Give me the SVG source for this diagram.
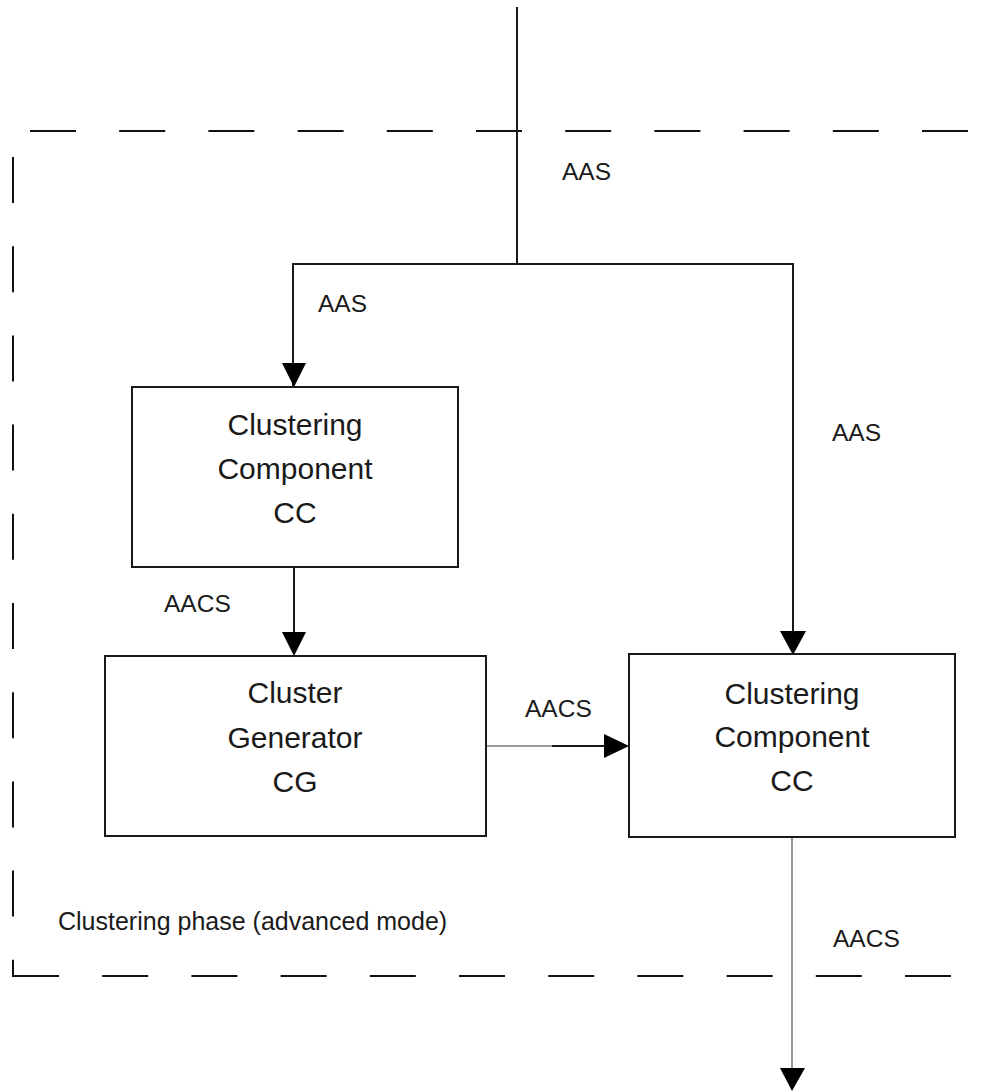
<svg xmlns="http://www.w3.org/2000/svg" width="990" height="1091" viewBox="0 0 990 1091">
  <style>
    .box { fill: #fff; stroke: #1a1a1a; stroke-width: 2; }
    .title { font-family: "Liberation Sans", Arial, sans-serif; font-size: 30px; fill: #1a1a1a; text-anchor: middle; }
    .lbl { font-family: "Liberation Sans", Arial, sans-serif; font-size: 24.5px; fill: #1a1a1a; }
    .phase { font-size: 25px; }
    .wire { fill: none; stroke: #1a1a1a; stroke-width: 2; }
    .grey { fill: none; stroke: #9a9a9a; stroke-width: 2; }
    .border { fill: none; stroke: #111; stroke-width: 2; stroke-dasharray: 46 43.2; }
    .head { fill: #000; }
  </style>

  <!-- phase boundary (dashed frame) -->
  <g id="phase-boundary">
    <line class="border" x1="30" y1="131" x2="972" y2="131"/>
    <line class="border" x1="13" y1="157" x2="13" y2="977"/>
    <line class="border" x1="13" y1="976" x2="953" y2="976"/>
    <text class="lbl phase" x="58" y="930">Clustering phase (advanced mode)</text>
  </g>

  <!-- connectors -->
  <g id="connectors">
    <!-- incoming AAS, split to both clustering components -->
    <polyline class="wire" points="517,7 517,264"/>
    <polyline class="wire" points="293,387 293,264 793,264 793,655"/>
    <polygon class="head" points="282,363 306,363 294,387"/>
    <polygon class="head" points="780,631 806,631 793,655"/>
    <text class="lbl" x="562" y="180">AAS</text>
    <text class="lbl" x="318" y="312">AAS</text>
    <text class="lbl" x="832" y="441">AAS</text>

    <!-- CC to CG -->
    <line class="wire" x1="294" y1="567" x2="294" y2="640"/>
    <polygon class="head" points="282,632 306,632 294,656"/>
    <text class="lbl" x="164" y="612">AACS</text>

    <!-- CG to second CC -->
    <line class="grey" x1="486" y1="746" x2="553" y2="746"/>
    <line class="wire" x1="552" y1="746" x2="612" y2="746"/>
    <polygon class="head" points="604,734 629,746 604,758"/>
    <text class="lbl" x="525" y="717">AACS</text>

    <!-- outgoing AACS -->
    <line class="grey" x1="792" y1="837" x2="792" y2="1075"/>
    <polygon class="head" points="780,1068 805,1068 792,1091"/>
    <text class="lbl" x="833" y="947">AACS</text>
  </g>

  <!-- first clustering component -->
  <g id="cc-1">
    <rect class="box" x="132" y="387" width="326" height="180"/>
    <text class="title" x="295" y="435">Clustering</text>
    <text class="title" x="295" y="479">Component</text>
    <text class="title" x="295" y="523">CC</text>
  </g>

  <!-- cluster generator -->
  <g id="cg">
    <rect class="box" x="105" y="656" width="381" height="180"/>
    <text class="title" x="295" y="703">Cluster</text>
    <text class="title" x="295" y="748">Generator</text>
    <text class="title" x="295" y="792">CG</text>
  </g>

  <!-- second clustering component -->
  <g id="cc-2">
    <rect class="box" x="629" y="654" width="326" height="183"/>
    <text class="title" x="792" y="704">Clustering</text>
    <text class="title" x="792" y="747">Component</text>
    <text class="title" x="792" y="791">CC</text>
  </g>
</svg>
